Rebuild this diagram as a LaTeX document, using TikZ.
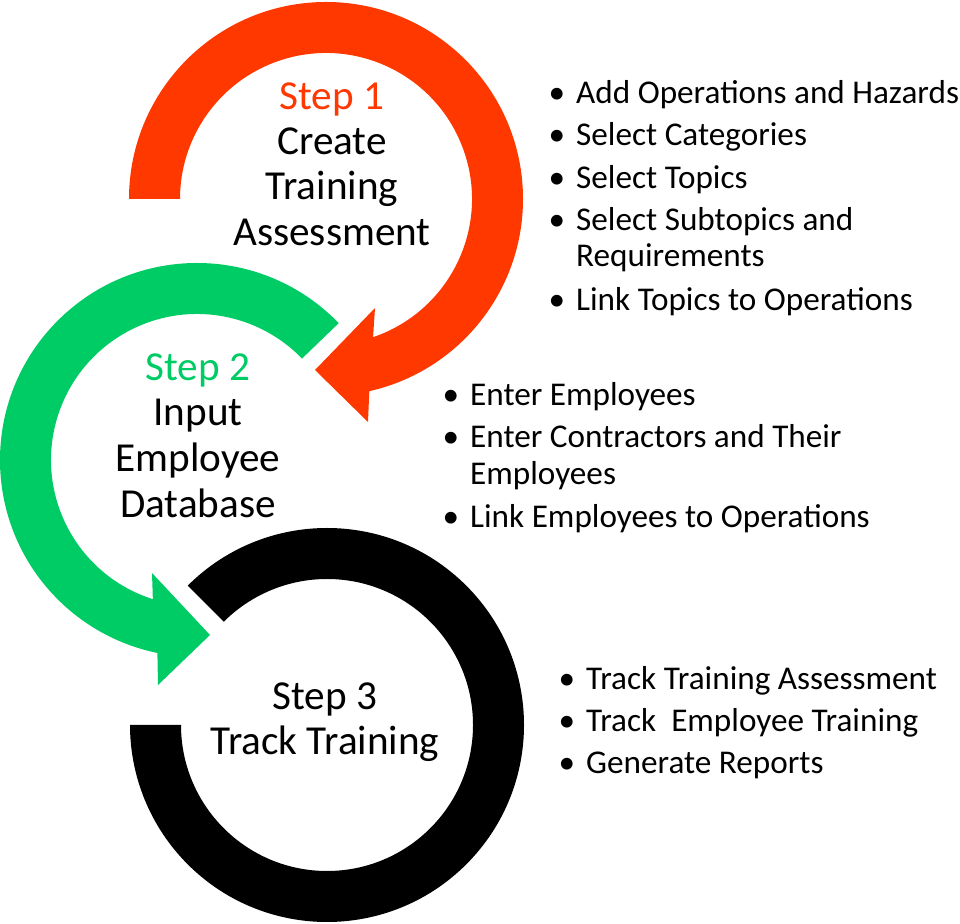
\documentclass[tikz,border=0pt]{standalone}
\usepackage{fontspec}
\setmainfont{Carlito}
\definecolor{stepred}{HTML}{FF3800}
\definecolor{stepgreen}{HTML}{00CC66}
\newcommand{\stepbul}{\llap{\textbullet\hspace{11pt}}}
\begin{document}
\begin{tikzpicture}[
  x=1pt, y=1pt,
  steplabel/.style={anchor=base, inner sep=0pt, font=\fontsize{41.2}{48}\selectfont},
  task/.style={anchor=base west, inner sep=0pt, font=\fontsize{33.2}{39}\selectfont}
]
  \useasboundingbox (0,0) rectangle (960,923);
  \fill[white] (0,0) rectangle (960,923);

  \coordinate (redc) at (326,724);
  \coordinate (greenc) at (197,463);
  \coordinate (blackc) at (327,198);

  % rings
  \fill[black] ([shift={(135:197)}]blackc) arc[start angle=135, end angle=-180, radius=197]
    -- ([shift={(180:146)}]blackc) arc[start angle=-180, end angle=135, radius=146] -- cycle;
  \fill[stepgreen] ([shift={(44:197)}]greenc) arc[start angle=44, end angle=258.4, radius=197]
    -- (158,238) -- (210,288) -- (152,350) -- ([shift={(252.4:146)}]greenc)
    arc[start angle=252.4, end angle=44, radius=146] -- cycle;
  \fill[stepred] ([shift={(180:197)}]redc) arc[start angle=180, end angle=-77.3, radius=197]
    -- (368,501) -- (315,553) -- (375,615) -- ([shift={(-71.2:146)}]redc)
    arc[start angle=-71.2, end angle=180, radius=146] -- cycle;

  % step texts
  \node[steplabel, stepred] (s1) at (332,813) {Step 1};
  \foreach \y/\txt [count=\i] in {768/Create, 723/Training, 677/Assessment}
    \node[steplabel] (s1l\i) at (332,\y) {\txt};
  \node[steplabel, stepgreen] (s2) at (198,542) {Step 2};
  \foreach \y/\txt [count=\i] in {497/Input, 451/Employee, 405/Database}
    \node[steplabel] (s2l\i) at (198,\y) {\txt};
  \node[steplabel] (s3) at (325,213) {Step 3};
  \node[steplabel] (s3l1) at (325,168) {Track Training};

  % task lists
  \foreach \y/\txt [count=\i] in {819/\stepbul Add Operations and Hazards,
      777/\stepbul Select Categories, 734/\stepbul Select Topics,
      692/\stepbul Select Subtopics and, 656/Requirements,
      612/\stepbul Link Topics to Operations}
    \node[task] (ta\i) at (576,\y) {\txt};
  \foreach \y/\txt [count=\i] in {517/\stepbul Enter Employees,
      475/\stepbul Enter Contractors and Their, 438/Employees,
      395/\stepbul Link Employees to Operations}
    \node[task] (tb\i) at (470,\y) {\txt};
  \foreach \y/\txt [count=\i] in {233/\stepbul Track Training Assessment,
      191/\stepbul Track~ Employee Training, 149/\stepbul Generate Reports}
    \node[task] (tc\i) at (586,\y) {\txt};
\end{tikzpicture}
\end{document}
